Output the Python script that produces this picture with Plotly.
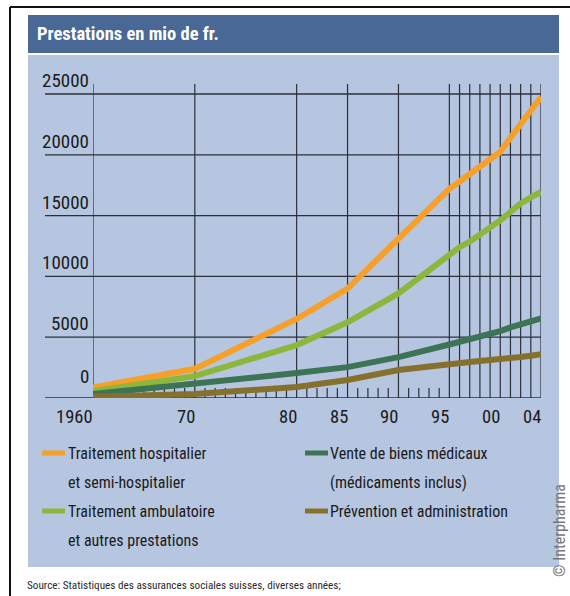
import plotly.graph_objects as go

# ---------------- data ----------------
years = [1960, 1970, 1980, 1985, 1990, 1995, 1996, 1997, 1998, 1999,
         2000, 2001, 2002, 2003, 2004]
hospital = [850, 2400, 6500, 9000, 13100, 17200, 17800, 18400, 19000, 19650,
            20250, 21400, 22500, 23600, 24750]
ambulatory = [550, 1800, 4350, 6230, 8600, 11800, 12400, 12850, 13400, 14000,
              14600, 15300, 16000, 16500, 16950]
goods = [330, 1150, 2050, 2540, 3360, 4400, 4600, 4850, 5050, 5300,
         5500, 5800, 6100, 6300, 6550]
prevention = [100, 330, 900, 1475, 2300, 2850, 2900, 2960, 3040, 3100,
              3200, 3300, 3370, 3480, 3600]

series_names = ["Traitement hospitalier<br>et semi-hospitalier",
                "Traitement ambulatoire<br>et autres prestations",
                "Vente de biens médicaux<br>(médicaments inclus)",
                "Prévention et administration"]
series_colors = ["#f5a02a", "#8cb63c", "#3e7456", "#86702e"]

y_ticks = [0, 5000, 10000, 15000, 20000, 25000]
y_tick_labels = ["0", "5000", "10000", "15000", "20000", "25000"]
x_tick_years = [1960, 1970, 1980, 1985, 1990, 1995, 2000, 2004]
x_tick_labels = ["1960", "70", "80", "85", "90", "95", "00", "04"]
major_lines = [1960, 1970, 1980, 1985, 1990] + list(range(1995, 2005))
minor_ticks = [y for y in range(1961, 1995) if y not in major_lines]

title_text = "Prestations en mio de fr."
source_text = "Source: Statistiques des assurances sociales suisses, diverses années;"
credit_text = "© Interpharma"

# ---------------- layout helpers ----------------
W, H = 570, 596
PX0, PX1, PY0, PY1 = 93, 541, 84, 398


def px(x):
    return (x - PX0) / (PX1 - PX0)


def py(y):
    return (PY1 - y) / (PY1 - PY0)


FONT = "Roboto Condensed, Liberation Sans Narrow, DejaVu Sans Condensed, sans-serif"
GRID = "#2b2f3a"
PANEL = "#b6c6e0"
BAR = "#4a6895"

fig = go.Figure()
for vals, name, col in zip([hospital, ambulatory, goods, prevention],
                           series_names, series_colors):
    fig.add_trace(go.Scatter(x=years, y=vals, mode="lines", name=name,
                             line=dict(color=col, width=6), showlegend=False,
                             hoverinfo="skip"))

shapes = []
# panel & title bar
shapes.append(dict(type="rect", xref="paper", yref="paper", x0=px(28), x1=px(559),
                   y0=py(567), y1=py(55), fillcolor=PANEL, line_width=0, layer="below"))
shapes.append(dict(type="rect", xref="paper", yref="paper", x0=px(28), x1=px(559),
                   y0=py(53), y1=py(15), fillcolor=BAR, line_width=0, layer="below"))
# frame
shapes.append(dict(type="line", xref="paper", yref="paper", x0=px(10), x1=px(10),
                   y0=py(7), y1=py(600), line=dict(color="#111", width=2)))
shapes.append(dict(type="line", xref="paper", yref="paper", x0=px(10), x1=px(575),
                   y0=py(7), y1=py(7), line=dict(color="#111", width=2)))
# horizontal grid lines
for v in y_ticks:
    shapes.append(dict(type="line", xref="paper", yref="y", x0=px(45), x1=1,
                       y0=v, y1=v, line=dict(color=GRID, width=1.3), layer="below"))
# vertical lines
for yr in major_lines:
    shapes.append(dict(type="line", xref="x", yref="paper", x0=yr, x1=yr,
                       y0=0, y1=1, line=dict(color=GRID, width=1.2), layer="below"))
for yr in minor_ticks:
    shapes.append(dict(type="line", xref="x", yref="paper", x0=yr, x1=yr,
                       y0=0, y1=py(388), line=dict(color=GRID, width=1.2), layer="below"))

# legend swatches
leg_pos = [(42, 453), (42, 511), (305, 453), (305, 511)]
for (lx, ly), col in zip(leg_pos, series_colors):
    shapes.append(dict(type="rect", xref="paper", yref="paper", x0=px(lx), x1=px(lx + 23),
                       y0=py(ly + 2.5), y1=py(ly - 2.5), fillcolor=col, line_width=0))

annotations = []
annotations.append(dict(text=title_text, xref="paper", yref="paper", x=px(35), y=py(34),
                        xanchor="left", yanchor="middle", showarrow=False,
                        font=dict(family=FONT, size=18.5, color="white", weight="bold")))
for v, lab in zip(y_ticks, y_tick_labels):
    annotations.append(dict(text=lab, xref="paper", yref="y", x=px(91), y=v,
                            xanchor="right", yanchor="bottom", showarrow=False,
                            yshift=(8 if v == 0 else 0),
                            font=dict(family=FONT, size=19, color="#1a1a1a")))
for yr, lab in zip(x_tick_years, x_tick_labels):
    annotations.append(dict(text=lab, xref="x", yref="paper", x=yr, y=py(404),
                            xanchor="right", yanchor="top", showarrow=False, xshift=2,
                            font=dict(family=FONT, size=18.5, color="#1a1a1a")))
# legend text
leg_text_pos = [(66, 453), (66, 511), (328, 453), (328, 511)]
for (tx, ty), name in zip(leg_text_pos, series_names):
    lines = name.split("<br>")
    for i, ln in enumerate(lines):
        annotations.append(dict(text=ln, xref="paper", yref="paper", x=px(tx),
                                y=py(ty + i * 29), xanchor="left", yanchor="middle",
                                showarrow=False,
                                font=dict(family=FONT, size=16, color="#1a1a1a")))
annotations.append(dict(text=source_text, xref="paper", yref="paper", x=px(25), y=py(585),
                        xanchor="left", yanchor="middle", showarrow=False,
                        font=dict(family=FONT, size=11.2, color="#2a2a2a")))
annotations.append(dict(text=credit_text, xref="paper", yref="paper", x=px(559), y=py(531),
                        xanchor="center", yanchor="middle", showarrow=False, textangle=-90,
                        font=dict(family=FONT, size=16, color="#777")))

fig.update_layout(
    width=W, height=H,
    margin=dict(l=PX0, r=W - PX1, t=PY0, b=H - PY1, pad=0),
    paper_bgcolor="white", plot_bgcolor="rgba(0,0,0,0)",
    xaxis=dict(range=[1960, 2004], visible=False, fixedrange=True),
    yaxis=dict(range=[0, 25000 * (PY1 - PY0) / 304], visible=False, fixedrange=True),
    shapes=shapes, annotations=annotations, showlegend=False,
)

fig.write_html("out.html", config={"displayModeBar": False},
               post_script="document.body.style.margin='0';document.body.style.overflow='hidden';")
